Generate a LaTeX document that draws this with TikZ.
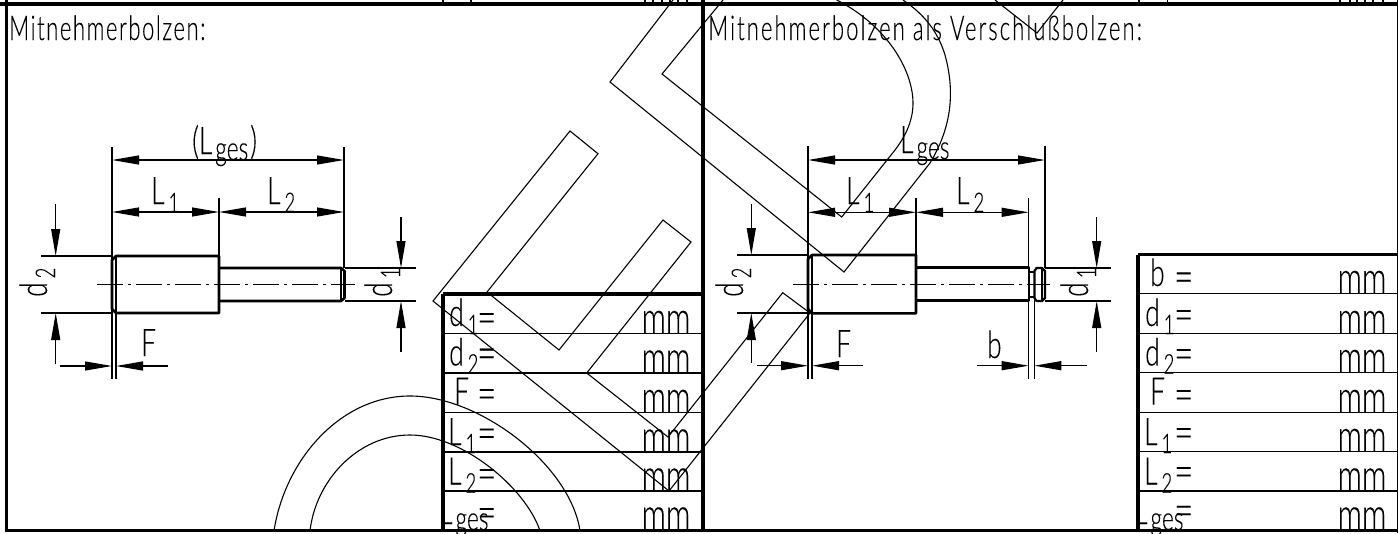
\documentclass[tikz,border=0pt]{standalone}
\usepackage{fontspec}
\usepackage{graphicx}
\usetikzlibrary{arrows.meta}
\newfontfamily\isofont[FakeStretch=0.69,FakeBold=0.12,UprightFont=* Light]{Lato}
\newfontfamily\isotitle[FakeStretch=0.65,FakeBold=0.12,LetterSpace=6,UprightFont=* Light]{Lato}
\newfontfamily\isotitleA[FakeStretch=0.65,FakeBold=0.12,LetterSpace=4.5,UprightFont=* Light]{Lato}
\newcommand{\isosub}[1]{\kern4pt\raisebox{-8pt}{\fontsize{27}{27}\selectfont #1}}
\newcommand{\isoges}{\kern3pt\raisebox{-6pt}{\fontsize{33}{33}\selectfont ges}}
\tikzset{
  frameline/.style={line width=3.2pt},
  partline/.style={line width=2.6pt, line join=round},
  headline/.style={line width=2.2pt, line join=miter},
  thinline/.style={line width=1.1pt},
  dimline/.style={line width=1.1pt, {Triangle[length=27pt,width=9pt]}-{Triangle[length=27pt,width=9pt]}},
  dimin/.style={line width=1.1pt, -{Triangle[length=27pt,width=9pt]}},
  centerline/.style={line width=1.1pt, dash pattern=on 26pt off 5pt on 3pt off 5pt},
  logoline/.style={line width=1.1pt, line join=miter},
  lbl/.style={inner sep=0pt, font=\isofont\fontsize{38}{38}\selectfont, anchor=base west},
  eqlbl/.style={inner sep=0pt, font=\isofont\fontsize{48}{48}\selectfont, anchor=base west},
  title/.style={inner sep=0pt, font=\isotitle\fontsize{34}{34}\selectfont, anchor=base west},
  titleleft/.style={inner sep=0pt, font=\isotitleA\fontsize{34}{34}\selectfont, anchor=base west},
  mmlbl/.style={inner sep=0pt, font=\isofont\fontsize{44}{44}\selectfont, anchor=base}
}
\begin{document}
\begin{tikzpicture}[x=1pt,y=-1pt]
    \useasboundingbox (0,0) rectangle (1398,533);
    \fill[white] (0,0) rectangle (1398,533);

    % frame
    \draw[frameline] (0,4) -- (1398,4);
    \draw[frameline] (6.5,0) -- (6.5,532);
    \draw[frameline] (703,0) -- (703,532);
    \draw[frameline] (5,530.5) -- (1398,530.5);
    \draw[thinline] (1397.6,0) -- (1397.6,533);
    \draw[thinline] (443,0) -- (443,4) (471,0) -- (471,4) (645,0) -- (645,4) (653,0) -- (653,4) (662,0) -- (662,4) (670,0) -- (670,4) (678,0) -- (678,4) (687,0) -- (687,4);
    \draw[thinline] (1139,0) -- (1139,4) (1167.7,0) -- (1167.7,4) (1340,0) -- (1340,4) (1350,0) -- (1350,4) (1357,0) -- (1357,4) (1365,0) -- (1365,4) (1373,0) -- (1373,4) (1383,0) -- (1383,4);

    % logo behind the drawing
    \draw[logoline] (433,301) -- (570,131) -- (598,153.7) -- (487,292) -- (559,350) -- (663,220) -- (691,242) -- (586.7,373) -- (668,437) -- (782.7,292.7) -- (810,313) -- (669,491) -- cycle;
    \draw[logoline] (673,0) -- (610,82) -- (844,272) -- (930,163) .. controls (950,130) and (956,95) .. (945,55) .. controls (938,32) and (925,15) .. (903,0);
    \draw[logoline] (723,0) -- (662,74) -- (841.7,217) -- (895,150) .. controls (908,133) and (915,115) .. (912.5,95) .. controls (908,60) and (880,22) .. (836.7,0);
    \draw[logoline] (995,0) -- (1037,33) -- (1063,0);
    \draw[logoline] (274,530.7) .. controls (285,460) and (340,396) .. (410,396) .. controls (480,396) and (570,465) .. (580,530.7);
    \draw[logoline] (310,530.7) .. controls (316,480) and (358,435) .. (410,435) .. controls (462,435) and (525,487) .. (540,530.7);

    % titles
    \node[titleleft] (titleA) at (9,40) {Mitnehmerbolzen:};
    \node[title] (titleB) at (708,40) {Mitnehmerbolzen als Verschlußbolzen:};

    % left bolt
    \draw[partline] (116,256) -- (219,256) -- (219,313) -- (116,313) -- (112,309) -- (112,260) -- cycle;
    \draw[partline] (219,268) -- (341,268) -- (344.5,271) -- (344.5,298) -- (341,301) -- (219,301);
    \draw[thinline] (341,268) -- (341,301);
    \draw[centerline] (97,284.7) -- (355,284.7);
    \draw[thinline] (112,147) -- (112,379);
    \draw[thinline] (116,256) -- (116,379);
    \draw[thinline] (344,147) -- (344,268);
    \draw[thinline] (219,198) -- (219,256);
    \draw[thinline] (41,256) -- (112,256);
    \draw[thinline] (41,313) -- (112,313);
    \draw[thinline] (345,268) -- (416,268);
    \draw[thinline] (345,301) -- (416,301);
    \draw[dimline] (112,160) -- (344,160);
    \draw[dimline] (112,212) -- (219,212);
    \draw[dimline] (219,212) -- (344,212);
    \draw[dimin] (55.7,204) -- (55.7,256);
    \draw[dimin] (55.7,364) -- (55.7,313);
    \draw[dimin] (401,217) -- (401,268);
    \draw[dimin] (401,352) -- (401,301);
    \draw[dimin] (60,366) -- (112,366);
    \draw[dimin] (168,366) -- (116,366);

    \node[lbl] (lgesA) at (192,154) {(L\isoges\kern2pt)};
    \node[lbl] (loneA) at (151,204) {L\isosub{1}};
    \node[lbl] (ltwoA) at (267,204) {L\isosub{2}};
    \node[lbl,rotate=90] (dtwoA) at (47,297) {d\isosub{2}};
    \node[lbl,rotate=90] (doneA) at (392,297) {d\isosub{1}};
    \node[lbl] (fdimA) at (141,356) {F};

    % left table
    \draw[frameline] (443,294) -- (703,294);
    \draw[frameline] (443,294) -- (443,530);
    \draw[thinline] (443,333.5) -- (703,333.5) (443,373) -- (703,373) (443,412.4) -- (703,412.4) (443,452) -- (703,452) (443,491) -- (703,491);
    \node[lbl] (rowA) at (449,326) {d\isosub{1}};
    \node[lbl] (rowB) at (449,365.5) {d\isosub{2}};
    \node[lbl] (rowC) at (454,404.6) {F};
    \node[lbl] (rowD) at (448,445) {L\isosub{1}};
    \node[lbl] (rowE) at (448,484.5) {L\isosub{2}};
    \node[lbl] (rowF) at (439,524) {L\isoges};
    \node[eqlbl] (eqA) at (477,334) {=};
    \node[eqlbl] (eqB) at (477,369.6) {=};
    \node[eqlbl] (eqC) at (477,410) {=};
    \node[eqlbl] (eqD) at (477,449.5) {=};
    \node[eqlbl] (eqE) at (477,490) {=};
    \node[eqlbl] (eqF) at (477,529) {=};
    \node[mmlbl] (mmA) at (666,333) {mm};
    \node[mmlbl] (mmB) at (666,372.5) {mm};
    \node[mmlbl] (mmC) at (666,412) {mm};
    \node[mmlbl] (mmD) at (666,451.5) {mm};
    \node[mmlbl] (mmE) at (666,490.5) {mm};
    \node[mmlbl] (mmF) at (666,529.5) {mm};

    % right bolt
    \draw[partline] (812,255) -- (916,255) -- (916,313.3) -- (812,313.3) -- (808,309) -- (808,259) -- cycle;
    \draw[partline] (916,267.7) -- (1029,267.7) -- (1029,300.7) -- (916,300.7);
    \draw[headline] (1034.5,271) -- (1036.5,268) -- (1042,268) -- (1045,271) -- (1045,298) -- (1042,301) -- (1036.5,301) -- (1034.5,298) -- cycle;
    \draw[headline] (1029,272) -- (1034.5,272);
    \draw[headline] (1029,297) -- (1034.5,297);
    \draw[thinline] (1042,268) -- (1042,301);
    \draw[centerline] (793,284.3) -- (1050,284.3);
    \draw[thinline] (808,146) -- (808,379);
    \draw[thinline] (812,255) -- (812,379);
    \draw[thinline] (916,198) -- (916,255);
    \draw[thinline] (1028.7,198) -- (1028.7,379);
    \draw[thinline] (1034.3,300) -- (1034.3,379);
    \draw[thinline] (1045,146) -- (1045,268);
    \draw[thinline] (737,255) -- (808,255);
    \draw[thinline] (737,313) -- (808,313);
    \draw[thinline] (1045,268) -- (1111,268);
    \draw[thinline] (1045,301) -- (1111,301);
    \draw[dimline] (808,160) -- (1045,160);
    \draw[dimline] (808,212.3) -- (916,212.3);
    \draw[dimline] (916,212.3) -- (1028.7,212.3);
    \draw[dimin] (751.3,204) -- (751.3,255);
    \draw[dimin] (751.3,363) -- (751.3,313);
    \draw[dimin] (1096.7,217) -- (1096.7,268);
    \draw[dimin] (1096.7,352) -- (1096.7,301);
    \draw[dimin] (757,365.7) -- (808,365.7);
    \draw[dimin] (863,365.7) -- (812,365.7);
    \draw[dimin] (977,365.7) -- (1028.7,365.7);
    \draw[dimin] (1087,365.7) -- (1034.3,365.7);

    \node[lbl] (lgesB) at (900,153) {L\isoges};
    \node[lbl] (loneB) at (846,204) {L\isosub{1}};
    \node[lbl] (ltwoB) at (956,204) {L\isosub{2}};
    \node[lbl,rotate=90] (dtwoB) at (743,297) {d\isosub{2}};
    \node[lbl,rotate=90] (doneB) at (1088,297) {d\isosub{1}};
    \node[lbl] (fdimB) at (836,357) {F};
    \node[lbl] (bdimB) at (987,358) {b};

    % right table
    \draw[frameline] (1138,254.5) -- (1398,254.5);
    \draw[frameline] (1138,254.5) -- (1138,530);
    \draw[thinline] (1138,293.5) -- (1398,293.5) (1138,333.5) -- (1398,333.5) (1138,372.7) -- (1398,372.7) (1138,412.3) -- (1398,412.3) (1138,451.3) -- (1398,451.3) (1138,491) -- (1398,491);
    \node[lbl] (rowG) at (1150,286) {b};
    \node[lbl] (rowH) at (1145,326) {d\isosub{1}};
    \node[lbl] (rowI) at (1145,365.5) {d\isosub{2}};
    \node[lbl] (rowJ) at (1150,404.6) {F};
    \node[lbl] (rowK) at (1144,445) {L\isosub{1}};
    \node[lbl] (rowL) at (1144,484.5) {L\isosub{2}};
    \node[lbl] (rowM) at (1134,524) {L\isoges};
    \node[eqlbl] (eqG) at (1174,293.3) {=};
    \node[eqlbl] (eqH) at (1174,331) {=};
    \node[eqlbl] (eqI) at (1174,370) {=};
    \node[eqlbl] (eqJ) at (1174,411) {=};
    \node[eqlbl] (eqK) at (1174,449) {=};
    \node[eqlbl] (eqL) at (1174,488) {=};
    \node[eqlbl] (eqM) at (1174,526.7) {=};
    \node[mmlbl] (mmG) at (1362,293) {mm};
    \node[mmlbl] (mmH) at (1362,333) {mm};
    \node[mmlbl] (mmI) at (1362,372) {mm};
    \node[mmlbl] (mmJ) at (1362,412) {mm};
    \node[mmlbl] (mmK) at (1362,451) {mm};
    \node[mmlbl] (mmL) at (1362,490.5) {mm};
    \node[mmlbl] (mmM) at (1362,529.5) {mm};
\end{tikzpicture}
\end{document}
